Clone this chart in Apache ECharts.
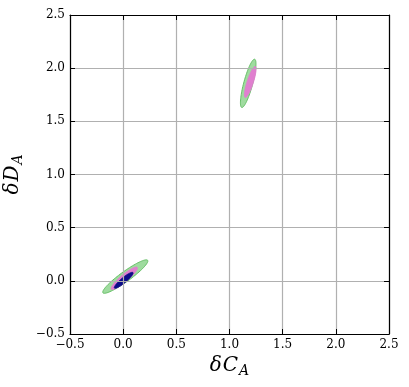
<!DOCTYPE html>
<html>
<head>
<meta charset="utf-8">
<script src="https://cdn.jsdelivr.net/npm/echarts@6/dist/echarts.min.js"></script>
<style>html,body{margin:0;padding:0;background:#fff;}#c{width:409px;height:387px;}</style>
</head>
<body>
<div id="c"></div>
<script>
// axis ranges / ticks
const xRange = [-0.5, 2.5];
const yRange = [-0.5, 2.5];
const tickStep = 0.5;
// ellipses: [centerX, centerY, semiMajor, semiMinor, angleDeg]
const ellipseGreen = [[0.02, 0.04, 0.26, 0.047, 36], [1.176, 1.857, 0.235, 0.042, 75]];
const ellipsePink = [[0.01, 0.024, 0.159, 0.033, 40], [1.195, 1.87, 0.153, 0.029, 72]];
const ellipseNavy = [[0.005, 0.005, 0.113, 0.024, 40]];

const fmt = v => (v < 0 ? '\u2212' : '') + Math.abs(v).toFixed(1);
const font = 'DejaVu Serif';

function ellipseSeries(data, fill, stroke) {
  return {
    type: 'custom',
    coordinateSystem: 'cartesian2d',
    xAxisIndex: 0, yAxisIndex: 0,
    data: data,
    renderItem: function (params, api) {
      const cx = api.value(0), cy = api.value(1), a = api.value(2), b = api.value(3);
      const phi = api.value(4) * Math.PI / 180;
      const pts = [];
      for (let i = 0; i < 90; i++) {
        const t = i / 90 * 2 * Math.PI;
        const x = cx + a * Math.cos(t) * Math.cos(phi) - b * Math.sin(t) * Math.sin(phi);
        const y = cy + a * Math.cos(t) * Math.sin(phi) + b * Math.sin(t) * Math.cos(phi);
        pts.push(api.coord([x, y]));
      }
      return { type: 'polygon', shape: { points: pts }, style: { fill: fill, stroke: stroke, lineWidth: 1 } };
    },
    silent: true,
    animation: false
  };
}

const commonAxis = (range, extra) => Object.assign({
  type: 'value', min: range[0], max: range[1], interval: tickStep,
  axisLine: { show: true, onZero: false, lineStyle: { color: '#000', width: 1.2 } },
  axisTick: { show: true, inside: true, length: 5, lineStyle: { color: '#000', width: 1 } },
  splitLine: { show: false },
  axisLabel: { show: false },
  z: 5
}, extra);

const titleRich = {
  d: { fontFamily: font, fontStyle: 'italic', fontSize: 20, color: '#000' },
  v: { fontFamily: font, fontStyle: 'italic', fontSize: 20, color: '#000', padding: [0, 1, 0, 1] },
  s: { fontFamily: font, fontStyle: 'italic', fontSize: 14, color: '#000', padding: [10, 0, 0, 0] }
};

const chart = echarts.init(document.getElementById('c'), null, { renderer: 'canvas' });
chart.setOption({
  animation: false,
  backgroundColor: '#fff',
  grid: { left: 70, right: 20, top: 15, bottom: 53, containLabel: false, outerBoundsMode: 'none' },
  xAxis: [
    commonAxis(xRange, {
      position: 'bottom',
      splitLine: { show: true, lineStyle: { color: '#b0b0b0', width: 1.2 } },
      axisLabel: { show: true, formatter: fmt, color: '#000', fontFamily: font, fontSize: 12, margin: 5 },
      name: '{d|δ}{v|C}{s|A}', nameLocation: 'middle', nameGap: 17,
      nameTextStyle: { rich: titleRich }
    }),
    commonAxis(xRange, { position: 'top' })
  ],
  yAxis: [
    commonAxis(yRange, {
      position: 'left',
      splitLine: { show: true, lineStyle: { color: '#b0b0b0', width: 1.2 } },
      axisLabel: { show: true, formatter: fmt, color: '#000', fontFamily: font, fontSize: 12, margin: 5 },
      name: '{d|δ}{v|D}{s|A}', nameLocation: 'middle', nameGap: 33, nameRotate: 90,
      nameTextStyle: { rich: titleRich }
    }),
    commonAxis(yRange, { position: 'right' })
  ],
  series: [
    ellipseSeries(ellipseGreen, '#9fdb9f', '#66bf66'),
    ellipseSeries(ellipsePink, '#e07fcf', '#e07fcf'),
    ellipseSeries(ellipseNavy, '#0c0c88', '#0c0c88')
  ]
});
</script>
</body>
</html>
